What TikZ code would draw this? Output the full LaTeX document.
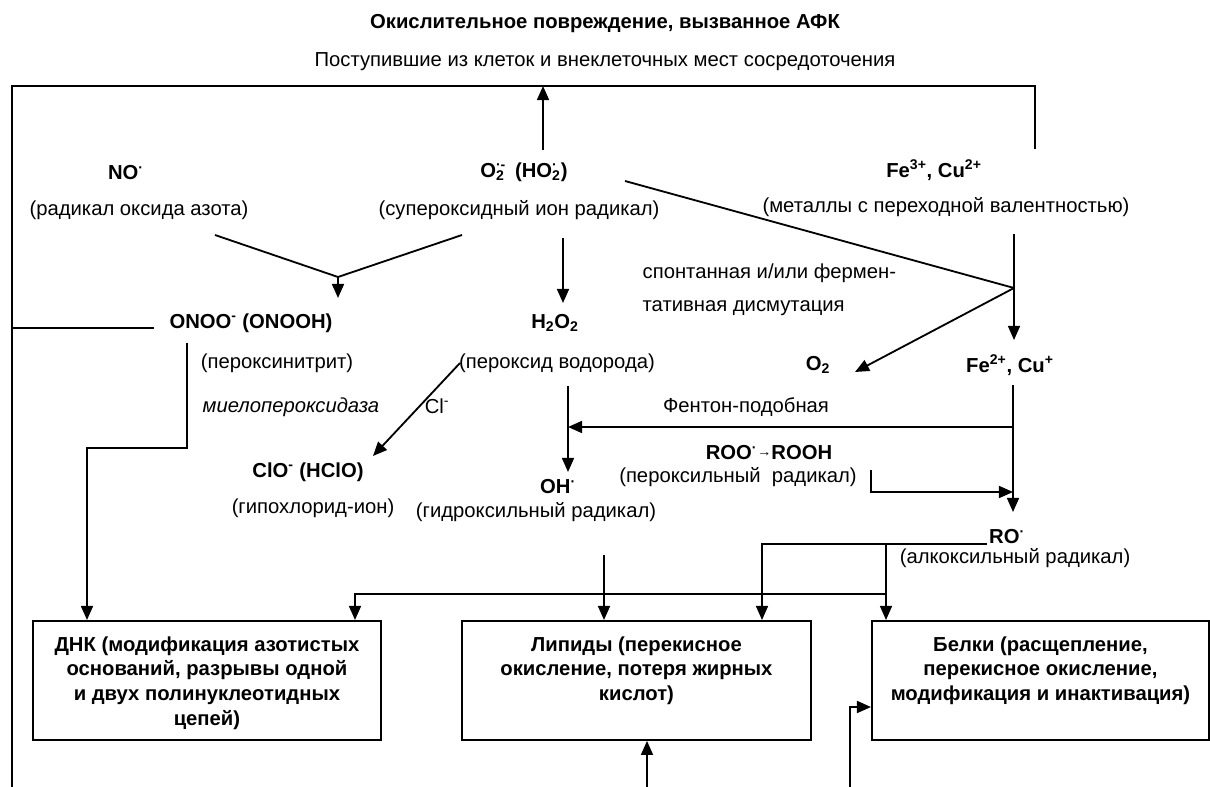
\documentclass[tikz,border=0pt]{standalone}
\usepackage{fontspec}
\setmainfont{Liberation Sans}
\usetikzlibrary{arrows.meta}
\newcommand{\fs}{\fontsize{14.4}{17.6}\selectfont}
\tikzset{
  arr/.style={-{Triangle[length=10pt,width=8.5pt]}, line width=1.3pt},
  ln/.style={line width=1.3pt},
  spec/.style={font=\fs\bfseries, inner sep=1pt},
  note/.style={font=\fs, inner sep=1pt},
  organ/.style={draw, line width=1.3pt, anchor=north west, inner sep=0pt, font=\fs\bfseries}
}
\newcommand{\rad}{\textsuperscript{·}}
\newcommand{\orgtext}[2]{\parbox[c][2.975cm][t]{#1}{\centering\rule{0pt}{21.5pt}#2}}

\begin{document}
\begin{tikzpicture}[x=0.025cm,y=-0.025cm]
\useasboundingbox (0,0) rectangle (1210,787);

\node[spec] (title) at (605,24) {Окислительное повреждение, вызванное АФК};
\node[note] (src) at (605,62) {Поступившие из клеток и внеклеточных мест сосредоточения};

% species
\node[spec] (no) at (126,173) {NO\rad};
\node[spec] (sup) at (524,172) {O\rlap{\textsubscript{2}}\textsuperscript{·-}\, (HO\rlap{\textsubscript{2}}\textsuperscript{·}\,)};
\node[spec] (fe3) at (934,170) {Fe\textsuperscript{3+}, Cu\textsuperscript{2+}};
\node[note] (nolab) at (139,210) {(радикал оксида азота)};
\node[note] (suplab) at (519,210) {(супероксидный ион радикал)};
\node[note] (felab) at (946,207) {(металлы с переходной валентностью)};
\node[note, anchor=west, align=left] (dism) at (641,290) {спонтанная и/или фермен-\\[6pt]тативная дисмутация};

\node[spec] (onoo) at (251,323) {ONOO\textsuperscript{-} (ONOOH)};
\node[spec] (hoo) at (555,323) {H\textsubscript{2}O\textsubscript{2}};
\node[spec] (otwo) at (818,365) {O\textsubscript{2}};
\node[spec] (fe2) at (1010,365) {Fe\textsuperscript{2+}, Cu\textsuperscript{+}};
\node[note] (onoolab) at (277,363) {(пероксинитрит)};
\node[note] (hoolab) at (557,363) {(пероксид водорода)};
\node[note, font=\fs\itshape] (mpo) at (291,407) {миелопероксидаза};
\node[note] (cl) at (437,406) {Cl\textsuperscript{-}};
\node[note] (fenton) at (746,407) {Фентон-подобная};

\node[spec] (clo) at (308,472) {ClO\textsuperscript{-} (HClO)};
\node[note] (clolab) at (313,508) {(гипохлорид-ион)};
\node[spec] (oh) at (558,487) {OH\rad};
\node[note] (ohlab) at (536,512) {(гидроксильный радикал)};
\node[spec] (roo) at (769,453) {ROO\textsuperscript{·}\raisebox{2.5pt}{\mdseries\fontsize{10}{12}\selectfont→}ROOH};
\node[note] (roolab) at (738,477) {(пероксильный\ \ радикал)};
\node[spec] (ro) at (1007,537) {RO\rad};
\node[note] (rolab) at (1015,558) {(алкоксильный радикал)};

% targets
\node[organ] (dna) at (32,620) {\orgtext{8.7cm}{ДНК (модификация азотистых\\оснований, разрывы одной\\и двух полинуклеотидных\\цепей)}};
\node[organ] (lip) at (461,620) {\orgtext{8.725cm}{Липиды (перекисное\\окисление, потеря жирных\\кислот)}};
\node[organ] (prot) at (871,620) {\orgtext{8.425cm}{Белки (расщепление,\\перекисное окисление,\\модификация и инактивация)}};

% frame
\coordinate (fTL) at (12,86);
\coordinate (fTR) at (1035,86);
\coordinate (fBL) at (12,787);
\coordinate (fR) at (1035,149);
\coordinate (supup) at (543,150);
\draw[ln] (fBL) -- (fTL) -- (fTR) -- (fR);
\draw[arr] (supup) -- (supup |- fTL);

% NO + O2 -> ONOO
\coordinate (vL) at (215,235);
\coordinate (vR) at (462,235);
\coordinate (vJ) at (338,277);
\coordinate (vT) at (338,298);
\draw[ln] (vL) -- (vJ) -- (vR);
\draw[arr] (vJ) -- (vT);
\coordinate (supd) at (563,238);
\draw[arr] (supd) -- (supd |- 0,303);

% dismutation
\coordinate (dS) at (625,181);
\coordinate (fJ) at (1014,288);
\coordinate (feT) at (1014,234);
\coordinate (oT) at (855,372);
\draw[ln] (dS) -- (fJ);
\draw[arr] (feT) -- (feT |- 0,340);
\draw[arr] (fJ) -- (oT);

% ONOO
\coordinate (lL) at (12,328);
\coordinate (lR) at (154,328);
\draw[ln] (lL) -- (lR);
\coordinate (nD) at (187,343);
\coordinate (nC) at (187,448);
\draw[arr] (nD) -- (nC) -- (nC -| 87,0) -- (87,0 |- dna.north);

% H2O2
\coordinate (hS) at (460,363);
\coordinate (hT) at (373,456);
\draw[arr] (hS) -- (hT);
\coordinate (hD) at (568,386);
\draw[arr] (hD) -- (hD |- 0,472);

% Fe2+
\coordinate (fD) at (1013,385);
\coordinate (fF) at (1013,427);
\draw[arr] (fD) -- (fD |- 0,512);
\draw[arr] (fF) -- (fF -| hD);
\coordinate (bT) at (871,470);
\coordinate (bC) at (871,492);
\draw[arr] (bT) -- (bC) -- (bC -| fD);

% RO and OH
\coordinate (rE) at (987,544);
\coordinate (rL) at (762,544);
\coordinate (rJ) at (886,544);
\coordinate (rK) at (886,594);
\coordinate (oD) at (604,555);
\draw[arr] (rE) -- (rL) -- (rL |- lip.north);
\draw[arr] (rJ) -- (rJ |- prot.north);
\draw[arr] (rK) -- (355,594) -- (355,0 |- dna.north);
\draw[arr] (oD) -- (oD |- lip.north);

% from below
\coordinate (lB) at (647,787);
\draw[arr] (lB) -- (lB |- lip.south);
\coordinate (pB) at (850,787);
\coordinate (pC) at (850,707);
\draw[arr] (pB) -- (pC) -- (pC -| prot.west);
\end{tikzpicture}
\end{document}
